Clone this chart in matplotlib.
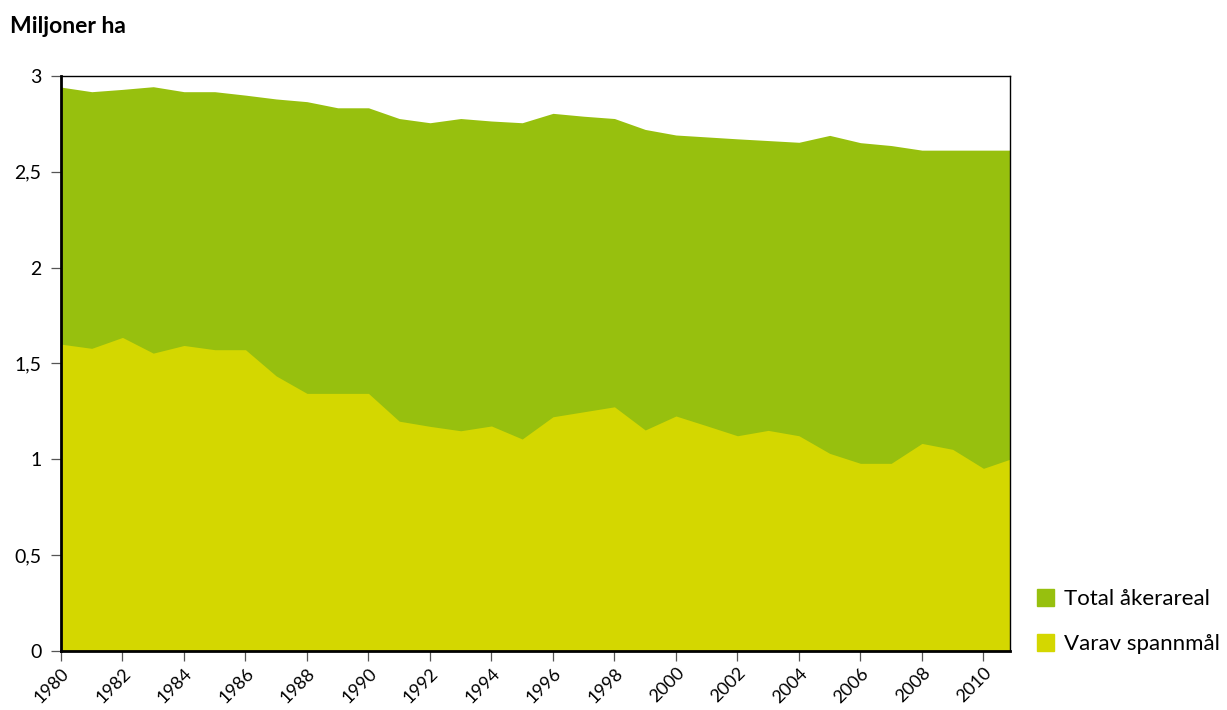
import matplotlib.pyplot as plt
from matplotlib.patches import Patch

plt.rcParams['font.family'] = ['Lato', 'DejaVu Sans']

# Miljoner ha, per år (2011 bara för att stänga ytan mot högerkanten)
years = list(range(1980, 2012))
total = [2.942, 2.918, 2.930, 2.944, 2.918, 2.918, 2.900, 2.880, 2.866, 2.834,
         2.834, 2.778, 2.756, 2.778, 2.765, 2.756, 2.805, 2.790, 2.778, 2.721,
         2.692, 2.682, 2.672, 2.663, 2.654, 2.690, 2.652, 2.637, 2.613, 2.613,
         2.613, 2.613]
spannmal = [1.601, 1.579, 1.636, 1.554, 1.594, 1.572, 1.572, 1.435, 1.344, 1.344,
            1.344, 1.199, 1.172, 1.149, 1.174, 1.106, 1.222, 1.248, 1.274, 1.153,
            1.226, 1.175, 1.123, 1.151, 1.123, 1.031, 0.979, 0.979, 1.083, 1.052,
            0.953, 1.008]

x_ticks = list(range(1980, 2011, 2))
y_ticks = [0, 0.5, 1, 1.5, 2, 2.5, 3]
y_labels = ['0', '0,5', '1', '1,5', '2', '2,5', '3']

green = '#97C00E'
yellow = '#D4D700'

fig = plt.figure(figsize=(12.27, 7.10), dpi=100)
ax = fig.add_axes([0.0497, 0.0831, 0.7731, 0.8099])

ax.fill_between(years, 0, total, color=green, linewidth=0)
ax.fill_between(years, 0, spannmal, color=yellow, linewidth=0)

ax.set_xlim(1980, 2010.85)
ax.set_ylim(0, 3)

ax.set_xticks(x_ticks)
ax.set_xticklabels([str(y) for y in x_ticks], rotation=45, ha='right', va='top',
                   rotation_mode='anchor', fontsize=13)
ax.set_yticks(y_ticks)
ax.set_yticklabels(y_labels, fontsize=14)
ax.tick_params(axis='both', direction='out', length=7, width=0.9, color='#555555', pad=7)
ax.tick_params(axis='x', pad=3)

for side in ['left', 'bottom']:
    ax.spines[side].set_linewidth(2.0)
for side in ['top', 'right']:
    ax.spines[side].set_linewidth(1.0)

fig.text(0.008, 0.954, 'Miljoner ha', fontsize=16.5, fontweight='bold',
         ha='left', va='baseline')

handles = [Patch(color=green, label='Total åkerareal'),
           Patch(color=yellow, label='Varav spannmål')]
fig.legend(handles=handles, loc='lower left', bbox_to_anchor=(0.838, 0.066),
           frameon=False, fontsize=16, handlelength=0.77, handleheight=0.77,
           handletextpad=0.45, labelspacing=1.12, borderaxespad=0)

fig.savefig('out.png', dpi=100)
